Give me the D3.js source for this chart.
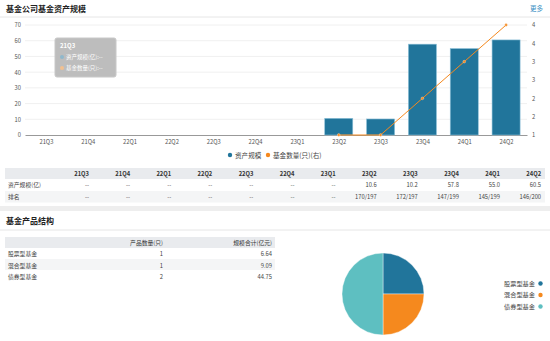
<!DOCTYPE html>
<html><head><meta charset="utf-8">
<script src="https://cdn.jsdelivr.net/npm/d3@7"></script>
<style>
body{margin:0;background:#fff;}
svg{display:block;font-family:"Noto Sans CJK SC","Noto Sans",sans-serif;}
</style></head>
<body>
<script>
const quarters = ["21Q3","21Q4","22Q1","22Q2","22Q3","22Q4","23Q1","23Q2","23Q3","23Q4","24Q1","24Q2"];
const assetScale = [null,null,null,null,null,null,null,10.6,10.2,57.8,55.0,60.5];
const fundCount = [null,null,null,null,null,null,null,1,1,2,3,4];
const rankings = ["--","--","--","--","--","--","--","170/197","172/197","147/199","145/199","146/200"];
const leftTicks = [0,10,20,30,40,50,60,70];
const rightTicks = [1,1.5,2,2.5,3,3.5,4];
const productTypes = ["股票型基金","混合型基金","债券型基金"];
const productCounts = [1,1,2];
const productScales = ["6.64","9.09","44.75"];
const colors = {bar:"#21759b", line:"#f5891e", teal:"#5ebfc1"};

const W=550,H=341;
const svg=d3.select("body").append("svg").attr("width",W).attr("height",H);

// Section 1 header
svg.append("text").attr("x",6).attr("y",12).attr("font-size",8).attr("font-weight","bold").attr("fill","#222").text("基金公司基金资产规模");
svg.append("text").attr("x",543).attr("y",11).attr("font-size",6.5).attr("text-anchor","end").attr("fill","#3a8fc4").text("更多");
svg.append("line").attr("x1",0).attr("x2",W).attr("y1",17).attr("y2",17).attr("stroke","#e6e6e6");

const x=d3.scaleBand().domain(quarters).range([25,527]).paddingInner(0.33).paddingOuter(0.165);
const xc=d3.scalePoint().domain(quarters).range([25,527]).padding(0.5);
const yL=d3.scaleLinear().domain([0,70]).range([135,25]);
const yR=d3.scaleLinear().domain([1,4]).range([135,25]);

// grid
svg.append("g").selectAll("line").data(leftTicks.slice(1)).join("line")
 .attr("x1",25).attr("x2",527).attr("y1",d=>yL(d)).attr("y2",d=>yL(d)).attr("stroke","#f0f0f0");

const axL=svg.append("g").attr("transform","translate(25,0)").call(d3.axisLeft(yL).tickValues(leftTicks).tickSize(0).tickPadding(4));
axL.select(".domain").remove();
axL.selectAll("text").attr("font-size",5.8).attr("fill","#555").attr("font-family","Noto Sans CJK SC");
const axR=svg.append("g").attr("transform","translate(527,0)").call(d3.axisRight(yR).tickValues(rightTicks).tickFormat(d3.format(".0f")).tickSize(0).tickPadding(5));
axR.select(".domain").remove();
axR.selectAll("text").attr("font-size",5.8).attr("fill","#555").attr("font-family","Noto Sans CJK SC");
const axB=svg.append("g").attr("transform","translate(0,135)").call(d3.axisBottom(xc).tickSize(0).tickPadding(5));
axB.select(".domain").attr("stroke","#999");
axB.selectAll("text").attr("font-size",5.8).attr("fill","#555").attr("font-family","Noto Sans CJK SC");

// bars
svg.append("g").selectAll("rect").data(quarters.map((q,i)=>({q,v:assetScale[i]})).filter(d=>d.v!=null)).join("rect")
 .attr("x",d=>x(d.q)).attr("width",x.bandwidth()).attr("y",d=>yL(d.v)).attr("height",d=>135-yL(d.v))
 .attr("fill",colors.bar).attr("stroke","#8cc0d8").attr("stroke-width",0.6);

// line
const lineData=quarters.map((q,i)=>({q,v:fundCount[i]})).filter(d=>d.v!=null);
svg.append("path").datum(lineData).attr("fill","none").attr("stroke",colors.line).attr("stroke-width",1)
 .attr("d",d3.line().x(d=>xc(d.q)).y(d=>yR(d.v)));
svg.append("g").selectAll("circle").data(lineData).join("circle")
 .attr("cx",d=>xc(d.q)).attr("cy",d=>yR(d.v)).attr("r",1.4).attr("fill",colors.line).attr("stroke","#fff").attr("stroke-width",0.3);

// tooltip
const tt=svg.append("g").attr("transform","translate(55,38)");
tt.append("rect").attr("width",61).attr("height",39).attr("rx",2).attr("fill","#bdbdbd").attr("stroke","#c8c8c8");
tt.append("text").attr("x",5).attr("y",10).attr("font-size",6).attr("font-weight","bold").attr("fill","#fff").text(quarters[0]);
tt.append("circle").attr("cx",7).attr("cy",19).attr("r",2).attr("fill","#8fb8cc");
tt.append("text").attr("x",11).attr("y",21).attr("font-size",5.5).attr("fill","#fff").text("资产规模(亿):--");
tt.append("circle").attr("cx",7).attr("cy",30).attr("r",2).attr("fill","#f2c08f");
tt.append("text").attr("x",11).attr("y",32).attr("font-size",5.5).attr("fill","#fff").text("基金数量(只):--");

// legend
const lg=svg.append("g");
lg.append("circle").attr("cx",230).attr("cy",155).attr("r",2.2).attr("fill",colors.bar);
lg.append("text").attr("x",235).attr("y",157.5).attr("font-size",6.6).attr("fill","#444").text("资产规模");
lg.append("circle").attr("cx",268).attr("cy",155).attr("r",2.2).attr("fill",colors.line);
lg.append("text").attr("x",273).attr("y",157.5).attr("font-size",6.6).attr("fill","#444").text("基金数量(只)(右)");

// table 1
svg.append("rect").attr("x",5).attr("y",168).attr("width",540).attr("height",11).attr("fill","#e9ebee");
svg.append("rect").attr("x",5).attr("y",191).attr("width",540).attr("height",11.5).attr("fill","#f4f5f6");
const colR=i=>89+i*41.1;
const t1=svg.append("g").attr("font-size",5.8).attr("fill","#333");
t1.selectAll(".h").data(quarters).join("text").attr("x",(d,i)=>colR(i)).attr("y",176).attr("text-anchor","end").attr("font-weight","bold").attr("fill","#333").text(d=>d);
t1.append("text").attr("x",8).attr("y",187).attr("fill","#444").text("资产规模(亿)");
t1.selectAll(".a").data(assetScale).join("text").attr("x",(d,i)=>colR(i)).attr("y",187).attr("text-anchor","end").attr("fill","#444").text(d=>d==null?"--":d.toFixed(1));
t1.append("text").attr("x",8).attr("y",199).attr("fill","#444").text("排名");
t1.selectAll(".r").data(rankings).join("text").attr("x",(d,i)=>colR(i)).attr("y",199).attr("text-anchor","end").attr("fill","#444").text(d=>d);

// divider band
svg.append("rect").attr("x",0).attr("y",206).attr("width",W).attr("height",5).attr("fill","#eeeeee");

// Section 2
svg.append("text").attr("x",6).attr("y",224).attr("font-size",8).attr("font-weight","bold").attr("fill","#222").text("基金产品结构");
svg.append("line").attr("x1",0).attr("x2",W).attr("y1",230).attr("y2",230).attr("stroke","#e6e6e6");
svg.append("rect").attr("x",5).attr("y",237).attr("width",270).attr("height",11).attr("fill","#e9ebee");
svg.append("rect").attr("x",5).attr("y",259).attr("width",270).attr("height",11).attr("fill","#f4f5f6");
const t2=svg.append("g").attr("font-size",5.8).attr("fill","#444");
t2.append("text").attr("x",163).attr("y",245).attr("text-anchor","end").attr("fill","#333").text("产品数量(只)");
t2.append("text").attr("x",272).attr("y",245).attr("text-anchor","end").attr("fill","#333").text("规模合计(亿元)");
productTypes.forEach((p,i)=>{
  const yy=256+i*11.5;
  t2.append("text").attr("x",8).attr("y",yy).text(p);
  t2.append("text").attr("x",163).attr("y",yy).attr("text-anchor","end").text(productCounts[i]);
  t2.append("text").attr("x",272).attr("y",yy).attr("text-anchor","end").text(productScales[i]);
});

// pie
const pieColors=[colors.bar,colors.line,colors.teal];
const pie=d3.pie().sort(null).value(d=>d)(productCounts);
const arc=d3.arc().innerRadius(0).outerRadius(41);
svg.append("g").attr("transform","translate(383,294)").selectAll("path").data(pie).join("path")
 .attr("d",arc).attr("fill",(d,i)=>pieColors[i]).attr("stroke","#fff").attr("stroke-width",0.4);

// pie legend
productTypes.forEach((p,i)=>{
  const yy=283.5+i*11.5;
  svg.append("text").attr("x",535).attr("y",yy+2).attr("text-anchor","end").attr("font-size",6.2).attr("fill","#444").text(p);
  svg.append("circle").attr("cx",540.5).attr("cy",yy).attr("r",2.2).attr("fill",pieColors[i]);
});
</script>
</body></html>
